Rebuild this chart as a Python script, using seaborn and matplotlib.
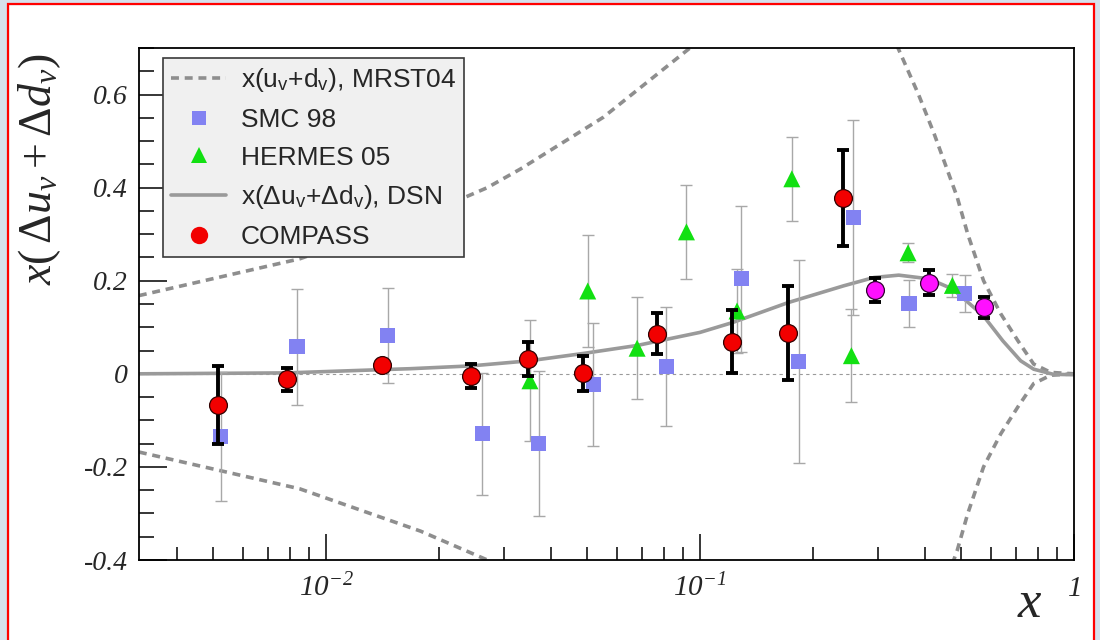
import numpy as np
import pandas as pd
import matplotlib
matplotlib.use("Agg")
import matplotlib.pyplot as plt
import seaborn as sns
from matplotlib.lines import Line2D
from matplotlib.patches import Rectangle
from matplotlib.ticker import LogLocator, NullFormatter, FixedLocator

# ---------------- data ----------------
compass_x = [0.00515, 0.00788, 0.0141, 0.0244, 0.0347, 0.0488, 0.0769, 0.1216, 0.172, 0.2415]
compass_y = [-0.067, -0.012, 0.018, -0.004, 0.032, 0.001, 0.086, 0.069, 0.088, 0.377]
compass_err = [0.084, 0.025, 0.010, 0.026, 0.036, 0.038, 0.044, 0.068, 0.101, 0.103]

extra_x = [0.293, 0.409, 0.573]
extra_y = [0.180, 0.196, 0.143]
extra_err = [0.026, 0.026, 0.023]

smc_x = [0.00523, 0.00837, 0.01462, 0.0262, 0.037, 0.0518, 0.0813, 0.129, 0.1837, 0.257, 0.362, 0.51]
smc_y = [-0.135, 0.058, 0.082, -0.129, -0.150, -0.023, 0.016, 0.204, 0.027, 0.336, 0.151, 0.173]
smc_err = [0.138, 0.125, 0.102, 0.131, 0.155, 0.132, 0.128, 0.157, 0.218, 0.210, 0.051, 0.040]

hermes_x = [0.0351, 0.0501, 0.0679, 0.092, 0.1256, 0.176, 0.254, 0.36, 0.473]
hermes_y = [-0.015, 0.178, 0.055, 0.305, 0.135, 0.419, 0.039, 0.260, 0.190]
hermes_err = [0.130, 0.120, 0.109, 0.101, 0.090, 0.090, 0.100, 0.020, 0.025]

dsn_x = [0.00316, 0.0079, 0.0141, 0.0168, 0.0244, 0.035, 0.049, 0.068, 0.1, 0.122, 0.172,
         0.242, 0.292, 0.34, 0.41, 0.474, 0.572, 0.645, 0.72, 0.78, 0.88, 1.0]
dsn_y = [0.0, 0.002, 0.009, 0.011, 0.017, 0.028, 0.044, 0.061, 0.089, 0.110, 0.153,
         0.189, 0.207, 0.212, 0.204, 0.182, 0.125, 0.071, 0.028, 0.010, -0.001, -0.002]

mrst_x = [0.00316, 0.0085, 0.0179, 0.027, 0.0331, 0.0551, 0.094, 0.15, 0.2, 0.26, 0.33,
          0.384, 0.423, 0.487, 0.52, 0.573, 0.637, 0.708, 0.78, 0.867, 1.0]
mrst_upper = [0.168, 0.247, 0.338, 0.400, 0.440, 0.551, 0.700, 0.800, 0.830, 0.800, 0.720,
              0.600, 0.515, 0.380, 0.300, 0.200, 0.129, 0.071, 0.021, 0.003, 0.0]
mrst_lower = [-0.168, -0.247, -0.338, -0.400, -0.440, -0.551, -0.700, -0.800, -0.830, -0.800, -0.720,
              -0.600, -0.515, -0.380, -0.300, -0.200, -0.129, -0.071, -0.021, -0.003, 0.0]

ytick_vals = [-0.4, -0.2, 0.0, 0.2, 0.4, 0.6]
ytick_labels = ["-0.4", "-0.2", "0", "0.2", "0.4", "0.6"]
xtick_vals = [0.01, 0.1, 1.0]
xtick_labels = [r"$\mathsf{10^{-2}}$", r"$\mathsf{10^{-1}}$", r"$\mathsf{1}$"]

legend_labels = [r"x(u$_\mathregular{v}$+d$_\mathregular{v}$), MRST04", "SMC 98", "HERMES 05",
                 r"x(Δu$_\mathregular{v}$+Δd$_\mathregular{v}$), DSN", "COMPASS"]

# ---------------- style ----------------
sns.set_style("white")
plt.rcParams.update({
    "font.family": ["Liberation Sans", "DejaVu Sans"],
    "mathtext.fontset": "custom",
    "mathtext.rm": "Liberation Serif",
    "mathtext.it": "Liberation Serif:italic",
    "mathtext.sf": "Liberation Serif:italic",
    "mathtext.bf": "Liberation Serif:bold",
    "axes.unicode_minus": False,
})

C_SMC = "#8282f2"
C_HER = "#12e012"
C_RED = "#f20000"
C_MAG = "#ff10ff"
C_CURVE = "#8e8e8e"
C_DSN = "#9a9a9a"
C_ERR = "#a8a8a8"

fig = plt.figure(figsize=(11, 6.4), dpi=100)
fig.patch.set_facecolor("white")
bg = "#d6e0ec"
fig.patches.append(Rectangle((0, 0), 8 / 1100, 1, transform=fig.transFigure, color=bg, zorder=0))
fig.patches.append(Rectangle((0, 1 - 4 / 640), 1, 4 / 640, transform=fig.transFigure, color=bg, zorder=0))
fig.patches.append(Rectangle((1094 / 1100, 0), 6 / 1100, 1, transform=fig.transFigure, color=bg, zorder=0))
fig.patches.append(Rectangle((8 / 1100, -0.01), 1086 / 1100, 1.01 - 4 / 640, transform=fig.transFigure,
                             fill=False, edgecolor="#ff0000", lw=1.6, zorder=1))

ax = fig.add_axes([139 / 1100, 1 - 560 / 640, (1074 - 139) / 1100, (560 - 48) / 640])
ax.set_xscale("log")
ax.set_xlim(10 ** -2.5, 1.0)
ax.set_ylim(-0.4, 0.7)
ax.set_facecolor("white")

ax.axhline(0, color="#9a9a9a", lw=0.8, ls=(0, (3, 3)), zorder=1)

sns.lineplot(x=mrst_x, y=mrst_upper, ax=ax, color=C_CURVE, lw=2.6, ls=(0, (2.2, 1.6)),
             estimator=None, sort=False, zorder=2)
sns.lineplot(x=mrst_x, y=mrst_lower, ax=ax, color=C_CURVE, lw=2.6, ls=(0, (2.2, 1.6)),
             estimator=None, sort=False, zorder=2)
sns.lineplot(x=dsn_x, y=dsn_y, ax=ax, color=C_DSN, lw=2.6, estimator=None, sort=False, zorder=2)

ax.errorbar(smc_x, smc_y, yerr=smc_err, fmt="none", ecolor=C_ERR, elinewidth=1.0,
            capsize=4, capthick=1.0, zorder=3)
ax.errorbar(hermes_x, hermes_y, yerr=hermes_err, fmt="none", ecolor=C_ERR, elinewidth=1.0,
            capsize=4, capthick=1.0, zorder=3)
sns.scatterplot(x=smc_x, y=smc_y, ax=ax, marker="s", s=120, color=C_SMC, edgecolor="none",
                zorder=4, legend=False)
sns.scatterplot(x=hermes_x, y=hermes_y, ax=ax, marker="^", s=150, color=C_HER, edgecolor="none",
                zorder=4, legend=False)

ax.errorbar(compass_x, compass_y, yerr=compass_err, fmt="none", ecolor="black", elinewidth=2.8,
            capsize=4, capthick=2.8, zorder=5)
ax.errorbar(extra_x, extra_y, yerr=extra_err, fmt="none", ecolor="black", elinewidth=2.8,
            capsize=4, capthick=2.8, zorder=5)
sns.scatterplot(x=compass_x, y=compass_y, ax=ax, marker="o", s=165, color=C_RED, edgecolor="#300000",
                linewidth=0.9, zorder=6, legend=False)
sns.scatterplot(x=extra_x, y=extra_y, ax=ax, marker="o", s=165, color=C_MAG, edgecolor="#300030",
                linewidth=0.9, zorder=6, legend=False)

# ---------------- axes ----------------
for side in ["top", "right", "left", "bottom"]:
    ax.spines[side].set_color("black")
    ax.spines[side].set_linewidth(1.3)
    ax.spines[side].set_visible(True)

ax.set_xticks(xtick_vals)
ax.set_xticklabels(xtick_labels, fontsize=21)
ax.xaxis.set_minor_locator(LogLocator(base=10, subs=np.arange(2, 10), numticks=30))
ax.xaxis.set_minor_formatter(NullFormatter())
ax.set_yticks(ytick_vals)
ax.set_yticklabels(ytick_labels, fontfamily="Liberation Serif", fontstyle="italic", fontsize=20)
ax.yaxis.set_minor_locator(FixedLocator(np.round(np.arange(-0.4, 0.7001, 0.05), 3)))

ax.tick_params(axis="both", which="both", direction="in", bottom=True, left=True,
               top=False, right=False, color="black")
ax.tick_params(axis="x", which="major", length=19, width=1.1, pad=10)
ax.tick_params(axis="x", which="minor", length=9.5, width=1.1)
ax.tick_params(axis="y", which="major", length=20, width=1.1, pad=8)
ax.tick_params(axis="y", which="minor", length=11, width=1.1)

ax.set_ylabel(r"$x(\,\Delta u_{v}+\Delta d_{v})$", fontsize=33, loc="top")
ax.yaxis.set_label_coords(-0.081, 0.99)
ax.set_xlabel(r"$x$", fontsize=38, loc="right")
ax.xaxis.set_label_coords(0.966, -0.035)

# ---------------- legend ----------------
handles = [
    Line2D([], [], color=C_CURVE, lw=2.6, ls=(0, (2.2, 1.6))),
    Line2D([], [], color=C_SMC, marker="s", ls="none", markersize=9.5, markeredgewidth=0),
    Line2D([], [], color=C_HER, marker="^", ls="none", markersize=11.5, markeredgewidth=0),
    Line2D([], [], color=C_DSN, lw=2.6),
    Line2D([], [], color=C_RED, marker="o", ls="none", markersize=12.5, markeredgewidth=0),
]
leg = ax.legend(handles, legend_labels, loc="upper left", bbox_to_anchor=(0.0257, 0.98),
                borderaxespad=0, fontsize=19, frameon=True, fancybox=False, framealpha=1,
                facecolor="#f0f0f0", edgecolor="#3a3a3a", handlelength=2.1, handletextpad=0.55,
                labelspacing=0.52, borderpad=0.3)
leg.get_frame().set_linewidth(1.2)
leg.set_zorder(10)

fig.savefig("out.png", dpi=100, facecolor=fig.get_facecolor())
